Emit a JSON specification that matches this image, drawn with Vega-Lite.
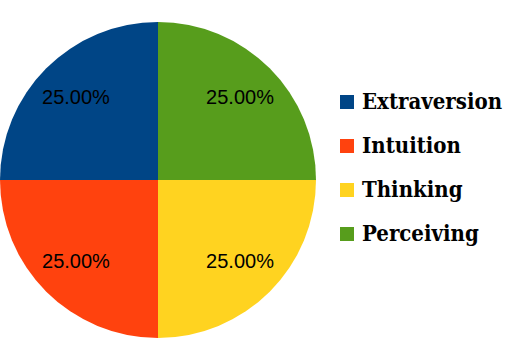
{
  "$schema": "https://vega.github.io/schema/vega-lite/v6.json",
  "width": 316,
  "height": 360,
  "padding": 0,
  "autosize": {"type": "pad"},
  "background": "white",
  "view": {"stroke": null},
  "data": {
    "values": [
      {"category": "Extraversion", "value": 25},
      {"category": "Intuition", "value": 25},
      {"category": "Thinking", "value": 25},
      {"category": "Perceiving", "value": 25}
    ]
  },
  "transform": [
    {"window": [{"op": "row_number", "as": "idx"}]},
    {"joinaggregate": [{"op": "sum", "field": "value", "as": "total"}]},
    {"calculate": "datum.value / datum.total", "as": "pct"}
  ],
  "encoding": {
    "theta": {"field": "value", "type": "quantitative", "stack": true},
    "order": {"field": "idx", "type": "quantitative", "sort": "descending"}
  },
  "layer": [
    {
      "mark": {"type": "arc", "outerRadius": 158},
      "encoding": {
        "color": {
          "field": "category",
          "type": "nominal",
          "sort": null,
          "scale": {
            "domain": ["Extraversion", "Intuition", "Thinking", "Perceiving"],
            "range": ["#004586", "#ff420e", "#ffd320", "#579d1c"]
          },
          "legend": {
            "orient": "none",
            "legendX": 336,
            "legendY": 91,
            "title": null,
            "padding": 0,
            "symbolType": "square",
            "symbolSize": 196,
            "symbolStrokeWidth": 0,
            "labelFont": "DejaVu Serif Condensed, DejaVu Serif",
            "labelFontWeight": "bold",
            "labelFontSize": 22,
            "labelColor": "black",
            "labelOffset": 4,
            "rowPadding": 22
          }
        }
      }
    },
    {
      "mark": {"type": "text", "radius": 116, "font": "Liberation Sans", "fontSize": 20},
      "encoding": {
        "detail": {"field": "category", "type": "nominal"},
        "color": {"value": "black"},
        "text": {"field": "pct", "type": "quantitative", "format": ".2%"}
      }
    }
  ]
}
